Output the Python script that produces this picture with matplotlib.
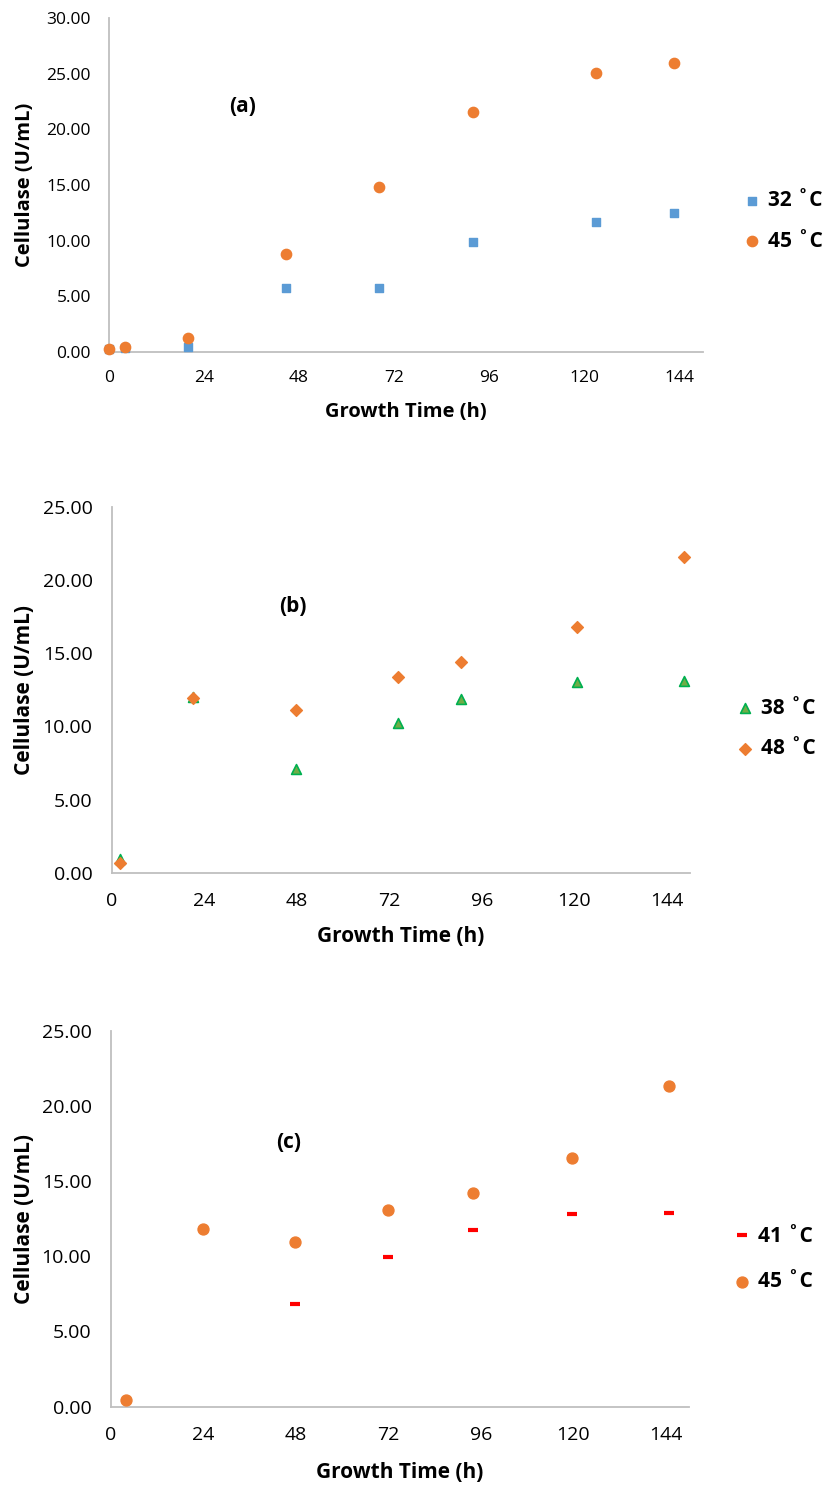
import matplotlib
matplotlib.use("Agg")
import matplotlib.pyplot as plt

plt.rcParams['font.family'] = ['Open Sans', 'DejaVu Sans']

# -----------------------------
# data
# -----------------------------
# panel (a)
t_a_32 = [0, 4, 20, 44.7, 68.2, 91.9, 122.9, 142.7]
y_a_32 = [0.2, 0.3, 0.45, 5.75, 5.75, 9.88, 11.7, 12.46]
t_a_45 = [0, 4, 20, 44.7, 68.2, 91.9, 122.9, 142.7]
y_a_45 = [0.27, 0.42, 1.23, 8.8, 14.8, 21.53, 25.07, 26.0]

# panel (b)
t_b = [2.2, 21.1, 47.7, 74.3, 90.5, 120.7, 148.4]
y_b_38 = [0.92, 12.04, 7.07, 10.2, 11.9, 13.05, 13.1]
y_b_48 = [0.66, 11.97, 11.13, 13.36, 14.4, 16.8, 21.56]

# panel (c)
t_c_41 = [3.8, 23.9, 47.9, 71.8, 94.0, 119.8, 144.9]
y_c_41 = [0.4, 11.78, 6.84, 9.96, 11.71, 12.82, 12.88]
t_c_45 = [3.8, 23.9, 47.9, 71.8, 94.0, 119.8, 144.9]
y_c_45 = [0.44, 11.78, 10.92, 13.1, 14.2, 16.56, 21.3]

x_ticks = [0, 24, 48, 72, 96, 120, 144]

BLUE = '#5B9BD5'
ORANGE = '#ED7D31'
GREEN_FILL = '#70AD47'
GREEN_EDGE = '#00B050'
RED = '#FF0000'
AXIS_GREY = '#BFBFBF'

W, H = 824, 1489
fig = plt.figure(figsize=(W / 100, H / 100), dpi=100)


def px_axes(left, right, top, bottom):
    return fig.add_axes([left / W, 1 - bottom / H, (right - left) / W, (bottom - top) / H])


def style_axes(ax, ymax, tick_size, pad, label_size):
    ax.set_xlim(0, 150)
    ax.set_ylim(0, ymax)
    ax.set_xticks(x_ticks)
    ax.set_yticks(range(0, ymax + 1, 5))
    ax.set_yticklabels([f"{v:.2f}" for v in range(0, ymax + 1, 5)])
    for s in ['top', 'right']:
        ax.spines[s].set_visible(False)
    for s in ['left', 'bottom']:
        ax.spines[s].set_color(AXIS_GREY)
        ax.spines[s].set_linewidth(1.3)
    ax.tick_params(length=0, labelsize=tick_size, pad=pad, colors='#000000')
    ax.set_xlabel("Growth Time (h)", fontsize=label_size, fontweight='bold', va='center')
    ax.set_ylabel("Cellulase (U/mL)", fontsize=label_size, fontweight='bold', va='center')


def add_legend(ax, x_px, y_px, spacing):
    ax.legend(loc='center left', bbox_to_anchor=(x_px / W, 1 - y_px / H),
              bbox_transform=fig.transFigure, frameon=False,
              prop={'weight': 'bold', 'size': 15}, handlelength=0.6,
              handletextpad=0.45, labelspacing=spacing, borderpad=0, borderaxespad=0)


# ---- panel (a)
ax1 = px_axes(109, 703, 18.3, 351.7)
ax1.scatter(t_a_32, y_a_32, marker='s', s=34, color=BLUE, label="32 ˚C", zorder=3, clip_on=False)
ax1.scatter(t_a_45, y_a_45, marker='o', s=55, color=ORANGE, label="45 ˚C", zorder=4, clip_on=False)
style_axes(ax1, 30, 12.5, 13, 14.5)
ax1.xaxis.set_label_coords(0.5, (351.7 - 412) / 333.4)
ax1.yaxis.set_label_coords((25 - 109) / 594, 0.5)
fig.text(243 / W, 1 - 107 / H, "(a)", fontsize=15, fontweight='bold', ha='center', va='center')
add_legend(ax1, 746, 221, 0.95)

# ---- panel (b)
ax2 = px_axes(112, 690, 507, 872.7)
ax2.scatter(t_b, y_b_38, marker='^', s=50, facecolor=GREEN_FILL, edgecolor=GREEN_EDGE,
            linewidth=1.2, label="38 ˚C", zorder=3, clip_on=False)
ax2.scatter(t_b, y_b_48, marker='D', s=36, color=ORANGE, label="48 ˚C", zorder=4, clip_on=False)
style_axes(ax2, 25, 14, 14, 15)
ax2.xaxis.set_label_coords(0.5, (872.7 - 936.7) / 365.7)
ax2.yaxis.set_label_coords((25 - 112) / 578, 0.5)
fig.text(293 / W, 1 - 606 / H, "(b)", fontsize=15, fontweight='bold', ha='center', va='center')
add_legend(ax2, 739, 728.5, 0.95)

# ---- panel (c)
ax3 = px_axes(111, 688.7, 1030.5, 1406.7)
ax3.plot(t_c_41, y_c_41, linestyle='none', marker='_', markersize=7.5, markeredgewidth=3,
         color=RED, label="41 ˚C", zorder=2, clip_on=False)
ax3.scatter(t_c_45, y_c_45, marker='o', s=62, color=ORANGE, label="45 ˚C", zorder=3, clip_on=False)
style_axes(ax3, 25, 14, 14, 15)
ax3.xaxis.set_label_coords(0.5, (1406.7 - 1473) / 376.2)
ax3.yaxis.set_label_coords((25 - 111) / 577.7, 0.5)
fig.text(289 / W, 1 - 1143 / H, "(c)", fontsize=15, fontweight='bold', ha='center', va='center')
add_legend(ax3, 736, 1259, 1.15)

fig.savefig("out.png", dpi=100)
